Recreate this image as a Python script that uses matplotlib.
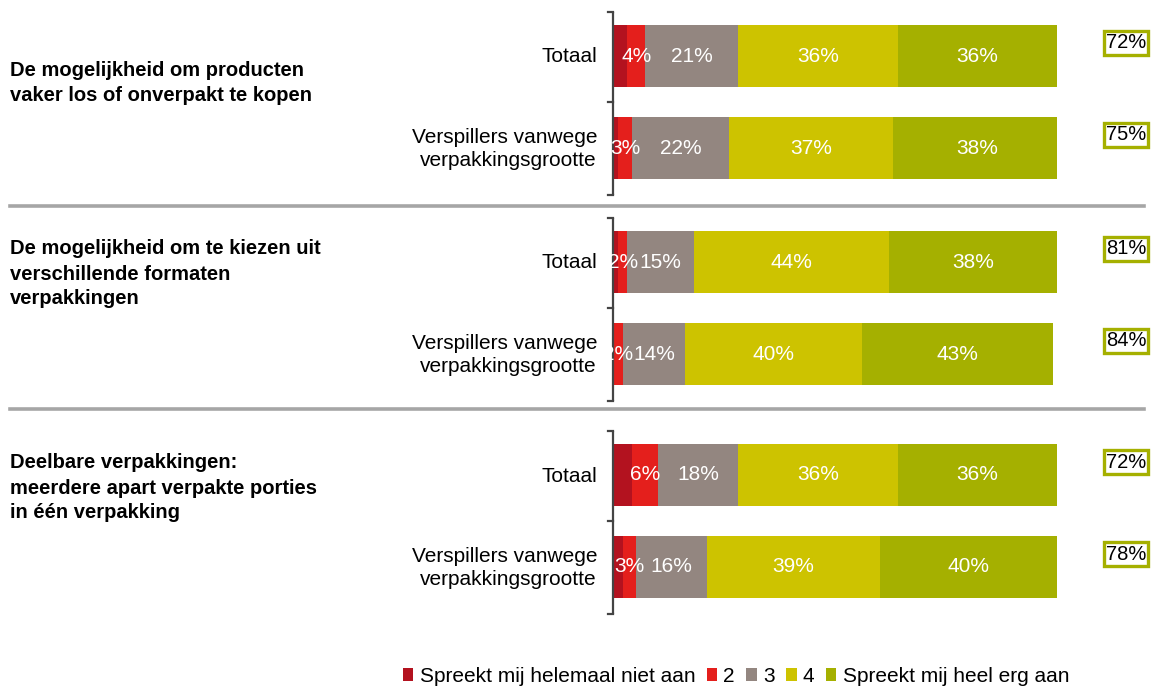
import numpy as np
import matplotlib.pyplot as plt
from matplotlib.patches import Patch

plt.rcParams['font.family'] = ['Liberation Sans', 'DejaVu Sans']

# statements (one group per statement, two rows each)
statements = [
    "De mogelijkheid om producten\nvaker los of onverpakt te kopen",
    "De mogelijkheid om te kiezen uit\nverschillende formaten\nverpakkingen",
    "Deelbare verpakkingen:\nmeerdere apart verpakte porties\nin één verpakking",
]
row_labels = ["Totaal", "Verspillers vanwege\nverpakkingsgrootte"]

legend_labels = ["Spreekt mij helemaal niet aan", "2", "3", "4",
                 "Spreekt mij heel erg aan"]
colors = ["#b3121f", "#e41f1c", "#938680", "#cdc300", "#a5b000"]

# shares per answer (%), rows in order: group 1 Totaal, group 1 Verspillers, ...
score_1 = [3, 1, 1, 0, 4, 2]
score_2 = [4, 3, 2, 2, 6, 3]
score_3 = [21, 22, 15, 14, 18, 16]
score_4 = [36, 37, 44, 40, 36, 39]
score_5 = [36, 38, 38, 43, 36, 40]
top2 = [72, 75, 81, 84, 72, 78]

W, H = 1153, 687
fig = plt.figure(figsize=(W / 100, H / 100), dpi=100)

# bar area: x in percent, y in pixel rows (top = 0)
x0, x1 = 614, 1057
ax = fig.add_axes([x0 / W, 0, (x1 - x0) / W, 1])
ax.set_xlim(0, 100)
ax.set_ylim(H, 0)
ax.axis('off')
px = 100 / (x1 - x0)  # data units per pixel horizontally

group_top = [12, 218, 431]
group_h = 183
row_off = [44, 136]
bar_h = 62

ys = []
for g in group_top:
    for r in row_off:
        ys.append(g + r)
ys = np.array(ys)

series = [score_1, score_2, score_3, score_4, score_5]
left = np.zeros(len(ys))
for k, (vals, c) in enumerate(zip(series, colors)):
    vals = np.array(vals, dtype=float)
    ax.barh(ys, vals, left=left, height=bar_h, color=c, edgecolor='none')
    if k > 0:
        for y, l, v in zip(ys, left, vals):
            if v > 0:
                ax.text(l + v / 2, y, f"{int(v)}%", ha='center', va='center',
                        color='white', fontsize=15)
    left += vals

# top-2 boxes on the right
for y, t in zip(ys, top2):
    ax.text((1126 - x0) * px, y - 13, f"{t}%", ha='center', va='center',
            fontsize=14.5, color='black', clip_on=False,
            bbox=dict(boxstyle='square,pad=0.1', facecolor='white',
                      edgecolor='#a5b000', linewidth=2.4))

# brackets on the category axis
axis_x = -1 * px
tick_len = 5 * px
for g in group_top:
    ax.plot([axis_x, axis_x], [g, g + group_h], color='#444444', lw=1.6,
            clip_on=False, solid_capstyle='butt')
    for yy in (g, g + (row_off[0] + row_off[1]) / 2, g + group_h):
        ax.plot([axis_x - tick_len, axis_x], [yy, yy], color='#444444',
                lw=1.6, clip_on=False)

# row labels
for i, y in enumerate(ys):
    fig.text(597 / W, 1 - (y + 1) / H, row_labels[i % 2], ha='right',
             va='center', fontsize=15, linespacing=1.28)

# statement labels
label_y = [83, 274, 488]
for s, y in zip(statements, label_y):
    fig.text(10 / W, 1 - y / H, s, ha='left', va='center', fontsize=14.5,
             fontweight='bold', linespacing=1.4)

# separators between statements
for y in (206, 409):
    fig.add_artist(plt.Line2D([10 / W, 1144 / W], [1 - y / H, 1 - y / H],
                              color='#a6a6a6', lw=2.6))

handles = [Patch(facecolor=c, edgecolor='none') for c in colors]
fig.legend(handles, legend_labels, ncol=5, loc='center',
           bbox_to_anchor=(736 / W, 1 - 676 / H), frameon=False,
           fontsize=15, handlelength=0.5, handleheight=0.6,
           handletextpad=0.3, columnspacing=0.55, borderaxespad=0)

fig.savefig('out.png', dpi=100)
